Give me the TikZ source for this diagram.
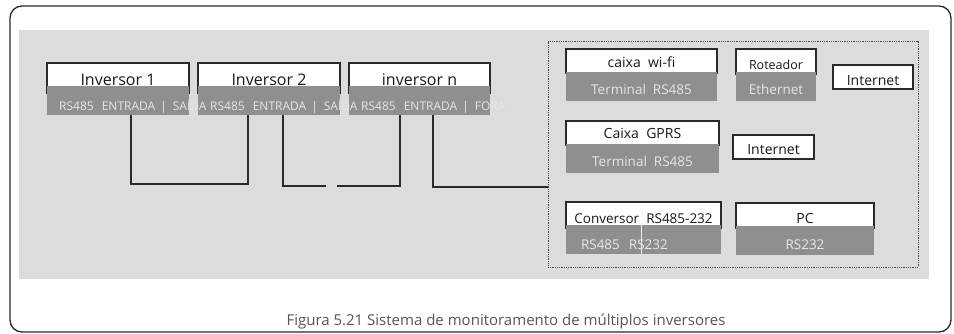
\documentclass[tikz,border=0pt]{standalone}
\usepackage{fontspec}
\setmainfont{Open Sans}
\usetikzlibrary{positioning}
\definecolor{panelGray}{HTML}{DCDCDC}
\definecolor{portGray}{HTML}{8F8F8F}
\definecolor{portText}{HTML}{E6E6E6}
\definecolor{lineDark}{HTML}{2A2A2A}
\definecolor{captionGray}{HTML}{555555}

\begin{document}
\begin{tikzpicture}[x=1pt, y=-1pt,
    devbox/.style={draw=lineDark, line width=1.4pt, fill=white, text=black!90,
      anchor=north west, inner xsep=0pt, inner ysep=0pt, outer sep=0pt,
      font=\fontsize{14}{14}\selectfont},
    portbar/.style={fill=portGray, text=portText, anchor=north west,
      inner xsep=0pt, inner ysep=0pt, outer sep=0pt,
      font=\fontsize{13.5}{13.5}\selectfont},
    invbar/.style={portbar, minimum width=142pt, minimum height=29pt},
    invtext/.style={text=portText, anchor=base west, inner sep=0pt,
      font=\fontsize{12}{12}\selectfont},
    wire/.style={draw=lineDark, line width=1.3pt},
    caption/.style={text=captionGray, font=\fontsize{15}{15}\selectfont, anchor=base}
  ]
  \useasboundingbox (0,0) rectangle (954,334);
  % frame and panel
  \draw[lineDark, line width=1.3pt, rounded corners=12pt] (10,6) rectangle (951,332);
  \fill[panelGray] (19,30) rectangle (929,279);
  \node[draw=black!70, densely dotted, line width=0.8pt, anchor=north west,
    minimum width=370pt, minimum height=226pt, inner sep=0pt, outer sep=0pt] (gw) at (548,41) {};

  % inverters
  \node[devbox, minimum width=142pt, text height=23pt, text depth=7pt,
    font=\fontsize{16}{16}\selectfont] (inv1) at (47,63) {Inversor 1};
  \node[invbar] (inv1-port) at (47,86) {};
  \node[devbox, minimum width=142pt, text height=23pt, text depth=7pt,
    font=\fontsize{16}{16}\selectfont] (inv2) at (198,63) {Inversor 2};
  \node[invbar] (inv2-port) at (198,86) {};
  \node[devbox, minimum width=141pt, text height=23pt, text depth=7pt,
    font=\fontsize{16}{16}\selectfont] (invn) at (349,63) {inversor n};
  \node[invbar, minimum width=141pt] (invn-port) at (349,86) {};
  \node[invtext] (inv1-text) at ([xshift=12pt,yshift=4pt]inv1-port.south west)
    {RS485\hspace{8pt}ENTRADA\hspace{5pt}|\hspace{6pt}SAÍDA};
  \node[invtext] (inv2-text) at ([xshift=12pt,yshift=4pt]inv2-port.south west)
    {RS485\hspace{8pt}ENTRADA\hspace{5pt}|\hspace{6pt}SAÍDA};
  \node[invtext] (invn-text) at ([xshift=12pt,yshift=4pt]invn-port.south west)
    {RS485\hspace{8pt}ENTRADA\hspace{5pt}|\hspace{6pt}FORA};

  % wi-fi and router
  \node[devbox, minimum width=151pt, text height=18.5pt, text depth=6pt] (wifi) at (566,49) {caixa~~wi-fi};
  \node[portbar, minimum width=151pt, text height=23pt, text depth=6pt] (wifi-port) at (566,72) {Terminal~~RS485};
  \node[devbox, minimum width=80pt, text height=21pt, text depth=4pt,
    font=\fontsize{12.5}{12.5}\selectfont] (router) at (736,49) {Roteador};
  \node[portbar, minimum width=80pt, text height=23pt, text depth=6pt] (router-port) at (736,72) {Ethernet};
  \node[devbox, minimum width=80pt, text height=21pt, text depth=3pt] (net1) at (833,65) {Internet};

  % gprs
  \node[devbox, minimum width=153pt, text height=18pt, text depth=6pt] (gprs) at (566,121) {Caixa~~GPRS};
  \node[portbar, minimum width=153pt, text height=23pt, text depth=6pt] (gprs-port) at (566,144) {Terminal~~RS485};
  \node[devbox, minimum width=81pt, text height=20pt, text depth=4pt] (net2) at (733,135) {Internet};

  % converter and pc
  \node[devbox, minimum width=155pt, text height=22pt, text depth=4pt,
    font=\fontsize{13.5}{13.5}\selectfont] (conv) at (566,202) {Conversor~~RS485-232};
  \node[portbar, inner xsep=15pt, text width=125pt, align=left, text height=24pt, text depth=5pt] (conv-port) at (566,225) {RS485~~RS232};
  \draw[white!85!portGray, line width=1pt] ([xshift=75pt]conv-port.north west) -- ([xshift=75pt]conv-port.south west);
  \node[devbox, minimum width=138pt, text height=21pt, text depth=4pt] (pc) at (736,203) {PC};
  \node[portbar, minimum width=138pt, text height=23pt, text depth=6pt] (pc-port) at (736,226) {RS232};

  % bus wiring
  \draw[wire] ([xshift=84pt]inv1-port.south west) -- ++(0,69) -| ([xshift=50pt]inv2-port.south west);
  \draw[wire] ([xshift=85pt]inv2-port.south west) -- ++(0,71) -- ++(43,0);
  \draw[wire] ([xshift=51pt]invn-port.south west) -- ++(0,71) -- ++(-63,0);
  \draw[wire] ([xshift=84pt]invn-port.south west) -- ++(0,72) coordinate (w3) -- (w3 -| gw.west);

  \node[caption] (cap) at (506,325) {Figura 5.21 Sistema de monitoramento de múltiplos inversores};
\end{tikzpicture}
\end{document}
